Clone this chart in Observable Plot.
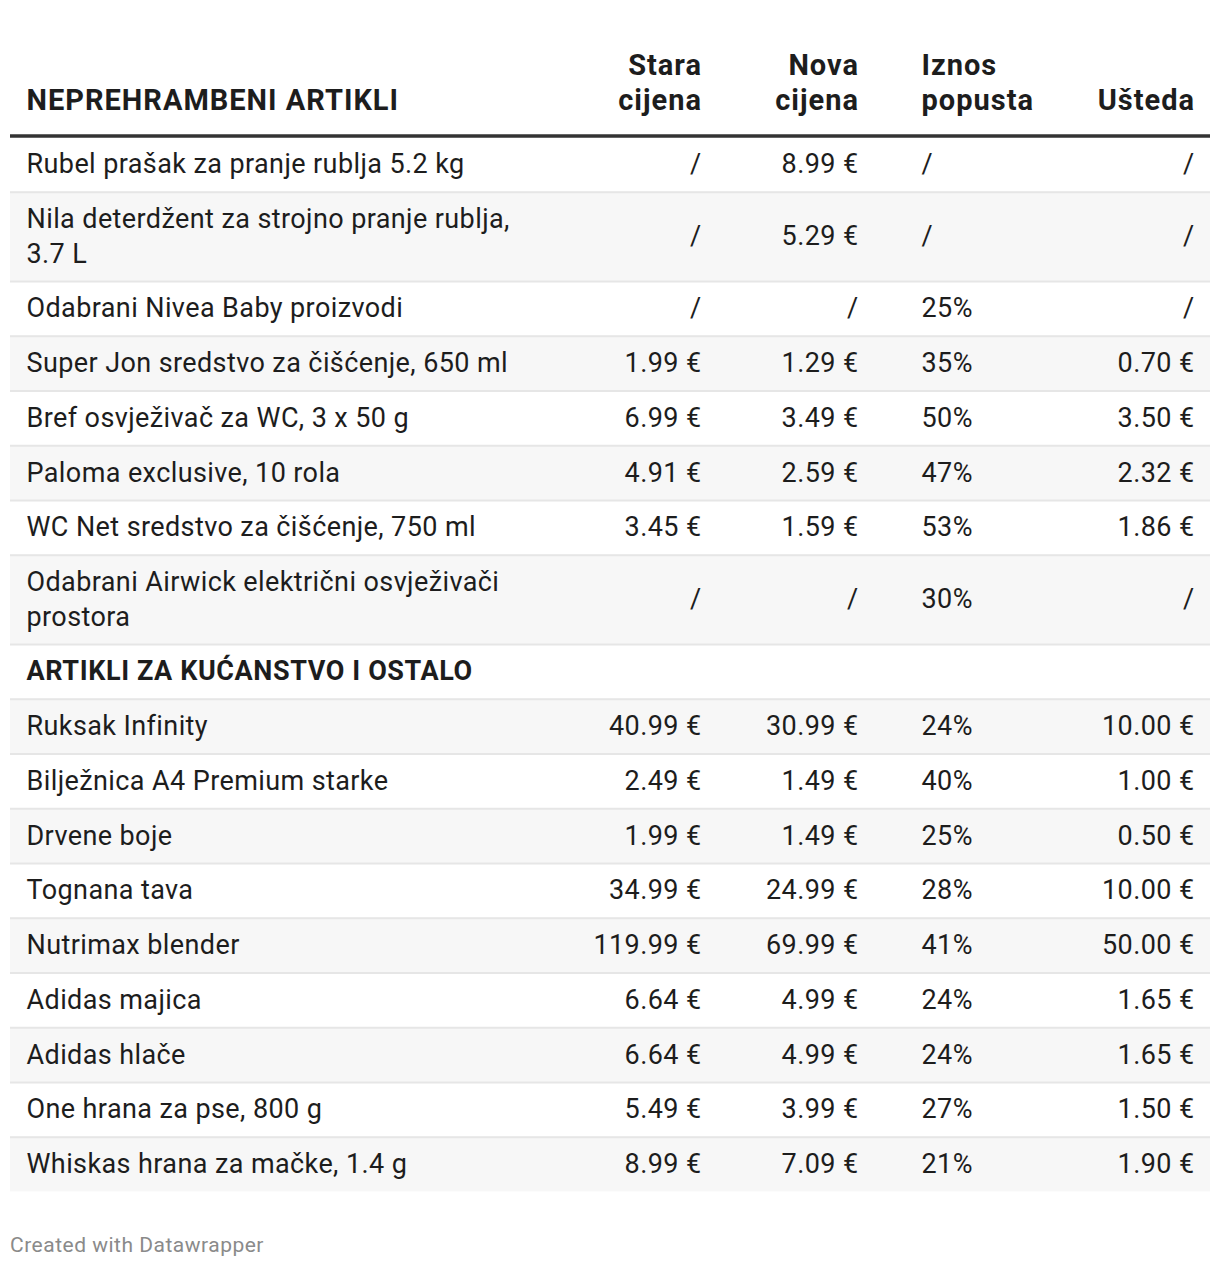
<!DOCTYPE html>
<html><head><meta charset="utf-8">
<script src="https://cdn.jsdelivr.net/npm/d3@7"></script>
<script src="https://cdn.jsdelivr.net/npm/@observablehq/plot@0.6"></script>
<style>
body{margin:0;background:#fff;font-family:Roboto,sans-serif;}
#footer{margin:41px 0 0 10px;font-size:21px;letter-spacing:0.5px;color:#8a8a8a;line-height:24px;font-family:Roboto,sans-serif;}
</style></head><body>
<div id="chart"></div>
<div id="footer">Created with Datawrapper</div>
<script>
// ---- data ----
const headers = ["NEPREHRAMBENI ARTIKLI", "Stara\ncijena", "Nova\ncijena", "Iznos\npopusta", "Ušteda"];
const products = [
  "Rubel prašak za pranje rublja 5.2 kg",
  "Nila deterdžent za strojno pranje rublja,\n3.7 L",
  "Odabrani Nivea Baby proizvodi",
  "Super Jon sredstvo za čišćenje, 650 ml",
  "Bref osvježivač za WC, 3 x 50 g",
  "Paloma exclusive, 10 rola",
  "WC Net sredstvo za čišćenje, 750 ml",
  "Odabrani Airwick električni osvježivači\nprostora",
  "ARTIKLI ZA KUĆANSTVO I OSTALO",
  "Ruksak Infinity",
  "Bilježnica A4 Premium starke",
  "Drvene boje",
  "Tognana tava",
  "Nutrimax blender",
  "Adidas majica",
  "Adidas hlače",
  "One hrana za pse, 800 g",
  "Whiskas hrana za mačke, 1.4 g"
];
const sectionRows = ["ARTIKLI ZA KUĆANSTVO I OSTALO"];
const oldPrice = [null, null, null, 1.99, 6.99, 4.91, 3.45, null, undefined, 40.99, 2.49, 1.99, 34.99, 119.99, 6.64, 6.64, 5.49, 8.99];
const newPrice = [8.99, 5.29, null, 1.29, 3.49, 2.59, 1.59, null, undefined, 30.99, 1.49, 1.49, 24.99, 69.99, 4.99, 4.99, 3.99, 7.09];
const discount = [null, null, 25, 35, 50, 47, 53, 30, undefined, 24, 40, 25, 28, 41, 24, 24, 27, 21];
const savings = [null, null, null, 0.70, 3.50, 2.32, 1.86, null, undefined, 10.00, 1.00, 0.50, 10.00, 50.00, 1.65, 1.65, 1.50, 1.90];

// ---- layout ----
const W = 1220;
const ROW_PX = 54.75;            // px per single-line row
const EXTRA_LINE = 34.5 / ROW_PX; // extra units per additional text line
const HEADER_UNITS = 2.5;
const HEADER_BASE = -27 / ROW_PX;
const FS = 27, LH = 34.5 / FS, LS = "0.4px", SLS = "0.6px";
const HFS = 29, HLH = 35 / HFS, HLS = "1px";
const col = {left: 10, right: 1210, name: 26, old: 701, nu: 858, disc: 921, save: 1194};
const TXT = "#1d1d1d";

const euro = v => v === undefined ? "" : v === null ? "/" : v.toFixed(2) + " €";
const pct = v => v === undefined ? "" : v === null ? "/" : v + "%";

let acc = 0;
const rows = products.map((name, i) => {
  const n = name.split("\n").length;
  const h = 1 + (n - 1) * EXTRA_LINE;
  const r = {name, i, y1: acc, y2: acc + h, yc: acc + h / 2,
    section: sectionRows.includes(name),
    old: euro(oldPrice[i]), nu: euro(newPrice[i]), disc: pct(discount[i]), save: euro(savings[i])};
  acc += h;
  return r;
});
const total = acc;
const H = Math.round((HEADER_UNITS + total) * ROW_PX) + 1;

const headerCells = headers.map((t, j) => ({text: t, x: [col.name, col.old + 0.5, col.nu + 0.5, col.disc, col.save + 0.5][j], anchor: j === 0 || j === 3 ? "start" : "end"}));

const bodyDy = -0.32 * (LH - 1) * FS;
const common = {y: "yc", fontSize: FS, lineHeight: LH, lineAnchor: "middle", dy: bodyDy, fill: TXT};
const hcommon = {x: "x", y: HEADER_BASE, text: "text", lineAnchor: "bottom", lineHeight: HLH, fontSize: HFS, fontWeight: 700, fill: TXT};

const chart = Plot.plot({
  width: W,
  height: H,
  margin: 0,
  x: {domain: [0, W], range: [0, W], axis: null},
  y: {domain: [-HEADER_UNITS, total], range: [0, (HEADER_UNITS + total) * ROW_PX], axis: null},
  style: {fontFamily: "Roboto", background: "transparent", overflow: "visible"},
  marks: [
    Plot.rect(rows.filter(r => r.i % 2 === 1), {x1: col.left, x2: col.right, y1: "y1", y2: "y2", fill: "#f7f7f7"}),
    Plot.ruleY(rows.filter(r => r.i > 0), {y: "y1", x1: col.left, x2: col.right, stroke: "#e6e6e6", strokeWidth: 2}),
    Plot.ruleY([0], {x1: col.left, x2: col.right, stroke: "#333333", strokeWidth: 3.5, dy: -1.5}),
    Plot.text(headerCells.filter(d => d.anchor === "start"), {...hcommon, textAnchor: "start"}),
    Plot.text(headerCells.filter(d => d.anchor === "end"), {...hcommon, textAnchor: "end"}),
    Plot.text(rows.filter(r => !r.section), {...common, x: col.name, text: "name", textAnchor: "start"}),
    Plot.text(rows.filter(r => r.section), {...common, x: col.name, text: "name", textAnchor: "start", fontWeight: 700}),
    Plot.text(rows, {...common, x: col.old, text: "old", textAnchor: "end"}),
    Plot.text(rows, {...common, x: col.nu, text: "nu", textAnchor: "end"}),
    Plot.text(rows, {...common, x: col.disc, text: "disc", textAnchor: "start"}),
    Plot.text(rows, {...common, x: col.save, text: "save", textAnchor: "end"})
  ]
});
// letter spacing per text group (header, section, body)
d3.select(chart).selectAll("g[font-size]").each(function () {
  const g = d3.select(this);
  const size = +g.attr("font-size");
  const bold = g.attr("font-weight") === "700";
  g.style("letter-spacing", size === HFS ? HLS : bold ? SLS : LS);
});
document.getElementById("chart").appendChild(chart);
</script>
</body></html>
